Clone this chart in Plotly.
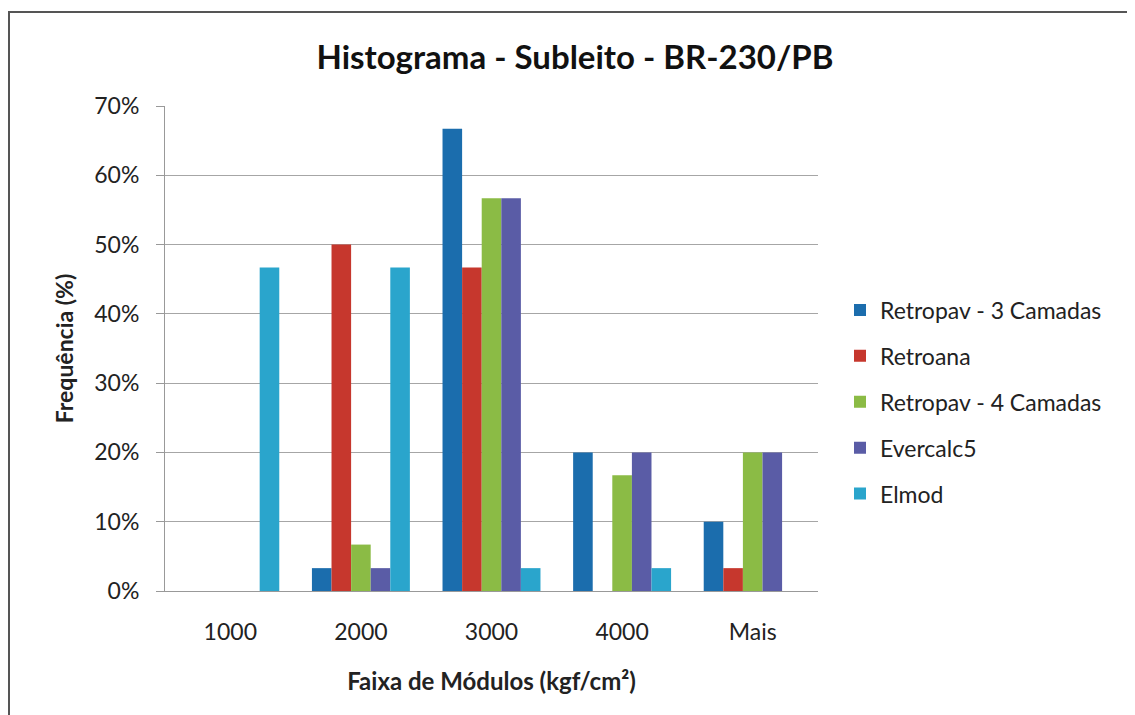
import plotly.graph_objects as go

categories = ["1000", "2000", "3000", "4000", "Mais"]
series_names = ["Retropav - 3 Camadas", "Retroana", "Retropav - 4 Camadas", "Evercalc5", "Elmod"]
retropav3 = [0.0, 0.033, 0.667, 0.20, 0.10]
retroana = [0.0, 0.50, 0.467, 0.0, 0.033]
retropav4 = [0.0, 0.067, 0.567, 0.167, 0.20]
evercalc5 = [0.0, 0.033, 0.567, 0.20, 0.20]
elmod = [0.467, 0.467, 0.033, 0.033, 0.0]
colors = ["#1B6DAD", "#C6372D", "#8BBB45", "#5A5CA6", "#2AA5CC"]
y_ticks = [0, 0.1, 0.2, 0.3, 0.4, 0.5, 0.6, 0.7]

W, H = 1135, 715
L, R, T, B = 157, 325, 98, 132
pw, ph = W - L - R, H - T - B

fig = go.Figure()
for i, (name, vals) in enumerate(zip(series_names, [retropav3, retroana, retropav4, evercalc5, elmod])):
    fig.add_trace(go.Bar(x=categories, y=vals, name=name, marker_color=colors[i],
                         marker_line_width=0, legendgroup=f"g{i}"))

font = "Lato, 'Open Sans', sans-serif"
fig.update_layout(
    width=W, height=H,
    margin=dict(l=L, r=R, t=T, b=B),
    paper_bgcolor="white", plot_bgcolor="white",
    barmode="group", bargap=0.25, bargroupgap=0,
    title=dict(text="<b>Histograma - Subleito - BR-230/PB</b>", x=(567) / W, xanchor="center",
               y=1 - 49 / H, yanchor="middle", font=dict(family=font, size=33, color="#111111")),
    font=dict(family=font, size=23, color="#222222"),
    legend=dict(x=(832 - L) / pw, y=(583 - 394) / ph, xanchor="left", yanchor="middle",
                font=dict(family=font, size=23, color="#222222"), tracegroupgap=13,
                traceorder="grouped", itemwidth=30),
    xaxis=dict(type="category", showgrid=False, showline=True, linecolor="#999999", linewidth=1,
               ticks="", tickfont=dict(size=23), ticklabelstandoff=20,
               title=dict(text="<b>Faixa de Módulos (kgf/cm²)</b>", font=dict(size=24), standoff=29)),
    yaxis=dict(range=[0, 0.7], tickvals=y_ticks, tickformat=".0%", showgrid=True,
               gridcolor="#A6A6A6", gridwidth=1, showline=True, linecolor="#999999",
               ticks="outside", ticklen=8, tickcolor="#999999", tickfont=dict(size=23),
               ticklabelstandoff=12, zeroline=False,
               title=dict(text="<b>Frequência (%)</b>", font=dict(size=23), standoff=14)),
)

# outer chart border
fig.add_shape(type="rect", xref="paper", yref="paper",
              x0=(1 - L) / pw, x1=(1160 - L) / pw, y0=(583 - 740) / ph, y1=(583 - 4) / ph,
              line=dict(color="#555555", width=2), fillcolor="rgba(0,0,0,0)", layer="below")

fig.write_html("out.html")
